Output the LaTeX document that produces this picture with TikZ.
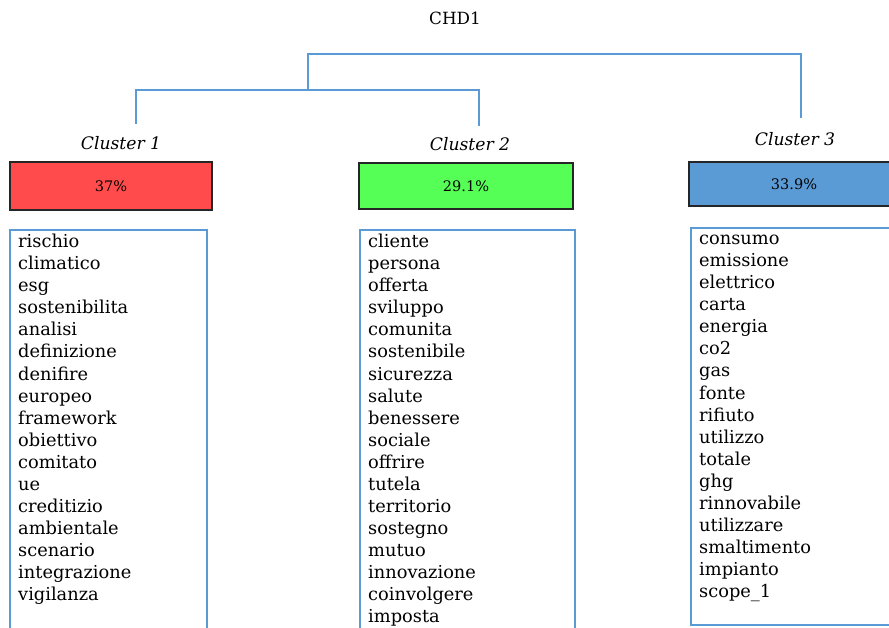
\documentclass[tikz,border=0pt]{standalone}
\usepackage{fontspec}
\setmainfont{DejaVu Serif}
\usetikzlibrary{positioning,calc}

\definecolor{linea}{RGB}{91,155,213}
\definecolor{rojo}{RGB}{255,75,75}
\definecolor{verde}{RGB}{85,255,85}
\definecolor{azul}{RGB}{91,155,213}

\tikzset{
  rama/.style={draw=linea, line width=2.3pt},
  caja/.style={draw=black!85, line width=1.4pt, minimum height=47pt, inner sep=0pt,
               font=\fontsize{14.5}{17}\selectfont},
  lista/.style={draw=linea, line width=1.4pt},
  palabra/.style={anchor=base west, inner sep=0pt, font=\fontsize{17.8}{22}\selectfont},
  titulo/.style={font=\fontsize{17.2}{20}\selectfont\itshape}
}

\begin{document}
\begin{tikzpicture}[x=1pt, y=-1pt]
  \useasboundingbox (0,0) rectangle (889,628);
  \clip (0,0) rectangle (889,628);

  \node[font=\fontsize{16.8}{20}\selectfont] (chd) at (455,18) {CHD1};

  % dendrograma
  \coordinate (r0) at (308,54);
  \coordinate (r1) at (308,90);
  \coordinate (a1) at (136,90);
  \coordinate (a2) at (479,90);
  \coordinate (b3) at (801,54);
  \coordinate (f1) at (136,124);
  \coordinate (f2) at (479,126);
  \coordinate (f3) at (801,118);
  \draw[rama] (r1) -- (r0) -- (b3) -- (f3);
  \draw[rama] (f1) -- (a1) -- (a2) -- (f2);

  % clusters
  \node[titulo] (cl1) at (121,143) {Cluster 1};
  \node[titulo] (cl2) at (470,144) {Cluster 2};
  \node[titulo] (cl3) at (795,139) {Cluster 3};

  \node[caja, fill=rojo,  minimum width=202pt, minimum height=48pt] (p1) at (111,186) {37\%};
  \node[caja, fill=verde, minimum width=214pt, minimum height=46pt] (p2) at (466,186) {29.1\%};
  \node[caja, fill=azul,  minimum width=210pt, minimum height=44pt] (p3) at (794,184) {33.9\%};

  % listas de palabras
  \draw[lista] (10,230) rectangle (207,660);
  \draw[lista] (360,230) rectangle (575,660);
  \draw[lista] (691,228) rectangle (905,625);

  \foreach \w [count=\i] in {rischio,climatico,esg,sostenibilita,analisi,definizione,denifire,europeo,
      framework,obiettivo,comitato,ue,creditizio,ambientale,scenario,integrazione,vigilanza}
    \node[palabra] (u\i) at (18,{248+22*(\i-1)}) {\w};
  \foreach \w [count=\i] in {cliente,persona,offerta,sviluppo,comunita,sostenibile,sicurezza,salute,
      benessere,sociale,offrire,tutela,territorio,sostegno,mutuo,innovazione,coinvolgere,imposta}
    \node[palabra] (d\i) at (368,{248+22*(\i-1)}) {\w};
  \foreach \w [count=\i] in {consumo,emissione,elettrico,carta,energia,co2,gas,fonte,rifiuto,
      utilizzo,totale,ghg,rinnovabile,utilizzare,smaltimento,impianto,scope\_1}
    \node[palabra] (t\i) at (699,{245+22*(\i-1)}) {\w};

\end{tikzpicture}
\end{document}
